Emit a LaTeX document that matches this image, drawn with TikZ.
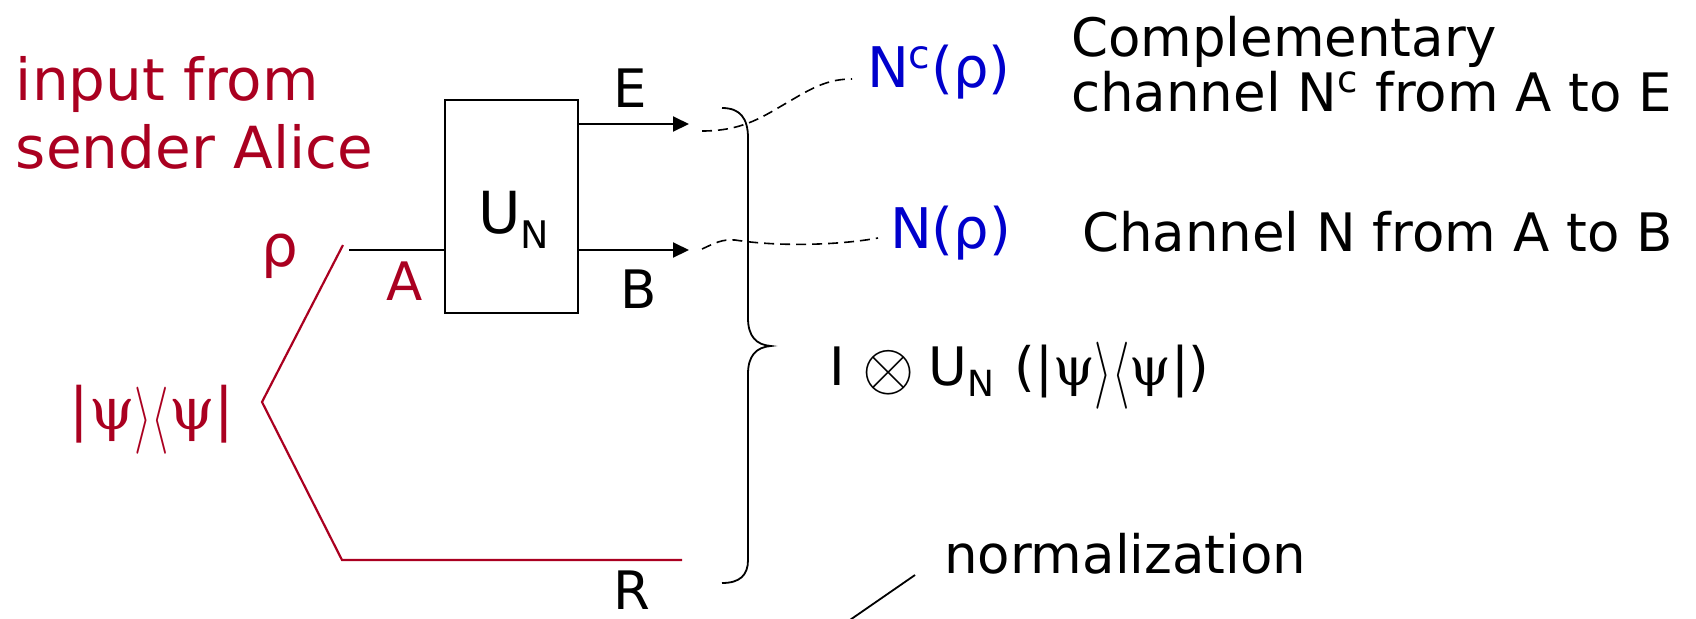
\documentclass[tikz,border=0pt]{standalone}
\usepackage{fontspec}
\usepackage{graphicx}
\setmainfont{DejaVu Sans}
\newfontfamily\serifgreek{DejaVu Serif}
\usetikzlibrary{arrows.meta}
\definecolor{alicered}{RGB}{170,0,32}
\definecolor{chanblue}{RGB}{0,0,204}
\newcommand{\mykb}{\raisebox{-0.14em}{\scalebox{0.9}[1.35]{$\rangle\langle$}}}
\newcommand{\mypsi}{{\serifgreek ψ}}
\begin{document}
\begin{tikzpicture}[x=0.5pt,y=-0.5pt,
  wire/.style={line width=1pt,draw=black},
  redwire/.style={line width=1.1pt,draw=alicered},
  arrowwire/.style={wire,-{Triangle[length=8pt,width=7.5pt]}},
  dashwire/.style={line width=0.8pt,dash pattern=on 5pt off 3pt},
  txt/.style={inner sep=0pt,outer sep=0pt,font=\fontsize{26.5}{30}\selectfont},
  bigred/.style={inner sep=0pt,outer sep=0pt,text=alicered,font=\fontsize{29}{32}\selectfont},
  bluetxt/.style={inner sep=0pt,outer sep=0pt,text=chanblue,font=\fontsize{28}{32}\selectfont},
  gatebox/.style={draw,line width=1pt,inner sep=0pt,outer sep=0pt,minimum width=66.5pt,minimum height=106.5pt}]
\useasboundingbox (0,0) rectangle (1696,618);

% title text
\node[bigred,anchor=base west] (in1) at (16,100) {input from};
\node[bigred,anchor=base west] (in2) at (16,168) {sender Alice};

% gate
\node[gatebox] (U) at (511.5,206.5) {};
\node[inner sep=0pt,anchor=base west,font=\fontsize{29}{30}\selectfont] (UN) at (478,233) {U\raisebox{-7.5pt}{\fontsize{19}{20}\selectfont N}};

% coordinates
\coordinate (Eend) at (689,124);
\coordinate (Bend) at (689,250);
\coordinate (Ain) at (349,250);
\coordinate (st) at (343,245);
\coordinate (vx) at (262,402);
\coordinate (sb) at (342,560);
\coordinate (Rend) at (682,560);

% wires
\draw[arrowwire] (Eend -| U.east) -- (Eend);
\draw[arrowwire] (Bend -| U.east) -- (Bend);
\draw[wire] (Ain) -- (Ain -| U.west);
\draw[redwire] (st) -- (vx) -- (sb) -- (Rend);

% wire labels
\node[txt] (Elbl) at (630,88) {E};
\node[txt] (Blbl) at (639,289) {B};
\node[txt,text=alicered] (Albl) at (405,281) {A};
\node[txt] (Rlbl) at (632,590) {R};
\node[bigred] (rho) at (280,256) {ρ};
\node[bigred] (psi) at (152,420) {|\mypsi\mykb\mypsi|};

% brace
\coordinate (brtip) at (771,346);
\draw[line width=0.9pt] (722,108) .. controls (740,108) and (748,118) .. (748,138) -- (748,318) .. controls (748,336) and (756,345) .. (brtip) .. controls (756,347) and (748,356) .. (748,374) -- (748,560) .. controls (748,575) and (740,583) .. (722,583);

% outputs
\node[bluetxt,anchor=base west] (Nc) at (867,87) {N\textsuperscript{c}(ρ)};
\node[bluetxt,anchor=base west] (N) at (890,248) {N(ρ)};
\coordinate (dEs) at (702,131);
\coordinate (dEe) at (852,79);
\coordinate (dBs) at (702,249);
\coordinate (dBe) at (878,238);
\draw[dashwire] (dEs) .. controls (745,131) and (765,115) .. (790,101) .. controls (815,86) and (830,79) .. (dEe);
\draw[dashwire] (dBs) .. controls (715,243) and (722,239) .. (735,240) .. controls (780,247) and (840,245) .. (dBe);

% descriptions
\node[txt,anchor=base west] (comp1) at (1071,56) {Complementary};
\node[txt,anchor=base west] (comp2) at (1071,111) {channel N\textsuperscript{c} from A to E};
\node[txt,anchor=base west] (chan) at (1082,251) {Channel N from A to B};

\node[txt,anchor=base west] (joint) at (829,385) {I\hspace{9pt}\raisebox{-0.09em}{\scalebox{1.35}{$\otimes$}}\hspace{7pt}U\raisebox{-5.5pt}{\fontsize{18}{20}\selectfont N}\hspace{10pt}(|\mypsi\mykb\mypsi|)};

\node[txt,anchor=base west] (norm) at (944,573) {normalization};
\coordinate (ns) at (915,575);
\coordinate (ne) at (847,622);
\draw[wire,line width=0.9pt] (ns) -- (ne);
\end{tikzpicture}
\end{document}
